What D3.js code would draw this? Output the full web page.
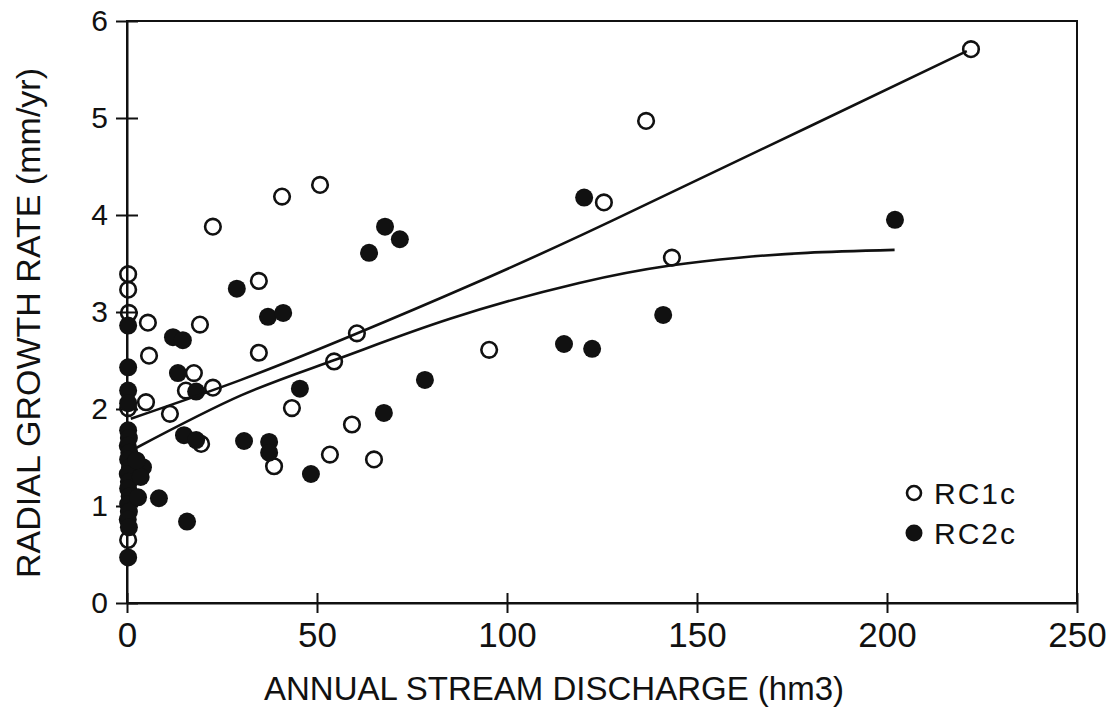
<!DOCTYPE html>
<html>
<head>
<meta charset="utf-8">
<title>Radial growth rate vs annual stream discharge</title>
<script src="https://d3js.org/d3.v7.min.js"></script>
<style>
    body { margin: 0; background: #fff; }
    text { font-family: "Liberation Sans", Arial, sans-serif; fill: #111; }
    .axis path, .axis line { stroke: #111; stroke-width: 2; }
    .frame { fill: none; stroke: #111; stroke-width: 2; }
    .fit { fill: none; stroke: #111; stroke-width: 2.6; }
    .rc1 { fill: none; stroke: #111; stroke-width: 2.6; }
    .rc2 { fill: #111; }
</style>
</head>
<body>
<div id="vis"></div>
<script>
// ---- data ----
// RC1c (open circles)
var rc1X = [222.1, 136.6, 125.5, 143.4, 95.3, 50.8, 40.8, 22.6, 34.7, 34.7,
            60.5, 54.5, 59.2, 43.4, 53.4, 65.0, 38.7, 0.3, 0.3, 0.5,
            5.5, 19.2, 5.8, 17.6, 15.5, 22.6, 5.0, 11.3, 0.3, 19.5, 0.3];
var rc1Y = [5.71, 4.97, 4.13, 3.56, 2.61, 4.31, 4.19, 3.88, 3.32, 2.58,
            2.78, 2.49, 1.84, 2.01, 1.53, 1.48, 1.41, 3.39, 3.23, 2.99,
            2.89, 2.87, 2.55, 2.37, 2.19, 2.22, 2.07, 1.95, 2.01, 1.64, 0.65];

// RC2c (filled circles)
var rc2X = [120.3, 202.1, 141.1, 115.0, 122.4, 78.4, 67.9, 71.8, 63.7, 67.6,
            48.4, 28.9, 37.1, 41.1, 12.1, 14.7, 13.4, 18.2, 45.5, 15.0,
            18.2, 30.8, 37.4, 37.4, 8.4, 15.8, 0.3, 0.3, 0.3, 0.3,
            0.3, 0.5, 0.2, 0.6, 0.3, 0.8, 0.2, 0.5, 0.3, 0.7,
            0.3, 0.5, 0.2, 0.5, 4.2, 3.6, 2.9, 2.5, 0.3];
var rc2Y = [4.18, 3.95, 2.97, 2.67, 2.62, 2.30, 3.88, 3.75, 3.61, 1.96,
            1.33, 3.24, 2.95, 2.99, 2.74, 2.71, 2.37, 2.18, 2.21, 1.73,
            1.68, 1.67, 1.66, 1.55, 1.08, 0.84, 2.86, 2.43, 2.19, 2.06,
            1.78, 1.70, 1.62, 1.55, 1.48, 1.40, 1.33, 1.25, 1.18, 1.10,
            1.02, 0.94, 0.86, 0.78, 1.40, 1.30, 1.09, 1.47, 0.47];

// fitted lines
var fit1X = [1, 30, 60, 90, 120, 150, 180, 221];
var fit1Y = [1.90, 2.30, 2.77, 3.27, 3.80, 4.36, 4.92, 5.69];
var fit2X = [2, 30, 55, 85, 119, 143, 161, 179, 202];
var fit2Y = [1.59, 2.14, 2.51, 2.93, 3.30, 3.48, 3.56, 3.61, 3.64];

var xTicks = [0, 50, 100, 150, 200, 250];
var yTicks = [0, 1, 2, 3, 4, 5, 6];
var legendLabels = ["RC1c", "RC2c"];

// ---- layout ----
var margin = {top: 21, right: 39, bottom: 106, left: 127},
    width = 1116 - margin.left - margin.right,
    height = 709 - margin.top - margin.bottom;

var svg = d3.select("#vis").append("svg")
    .attr("width", 1116)
    .attr("height", 709);

var g = svg.append("g")
    .attr("transform", "translate(" + margin.left + "," + margin.top + ")");

var x = d3.scaleLinear().domain([0, 250]).range([0, width]);
var y = d3.scaleLinear().domain([0, 6]).range([height, 0]);

// frame (top + right side)
g.append("rect").attr("class", "frame")
    .attr("width", width).attr("height", height);

// axes, ticks crossing the axis line
var xAxis = g.append("g").attr("class", "axis")
    .attr("transform", "translate(0," + height + ")")
    .call(d3.axisBottom(x).tickValues(xTicks).tickFormat(d3.format("d"))
        .tickSize(10).tickSizeOuter(0).tickPadding(9));
xAxis.selectAll(".tick line").attr("y1", -10);
xAxis.selectAll("text").style("font-size", "35px");

var yAxis = g.append("g").attr("class", "axis")
    .call(d3.axisLeft(y).tickValues(yTicks).tickFormat(d3.format("d"))
        .tickSize(11).tickSizeOuter(0).tickPadding(8));
yAxis.selectAll(".tick line").attr("x1", 11);
yAxis.selectAll("text").style("font-size", "30px");

svg.selectAll(".axis text").attr("fill", "#111");

// titles
svg.append("text")
    .attr("x", 554).attr("y", 700)
    .attr("text-anchor", "middle")
    .style("font-size", "33px")
    .text("ANNUAL STREAM DISCHARGE (hm3)");

svg.append("text")
    .attr("transform", "translate(40,323) rotate(-90)")
    .attr("text-anchor", "middle")
    .style("font-size", "34px")
    .text("RADIAL GROWTH RATE (mm/yr)");

// points
var rc1 = rc1X.map(function(d, i) { return {x: d, y: rc1Y[i]}; });
var rc2 = rc2X.map(function(d, i) { return {x: d, y: rc2Y[i]}; });

g.selectAll(".rc1").data(rc1).enter().append("circle")
    .attr("class", "rc1")
    .attr("cx", function(d) { return x(d.x); })
    .attr("cy", function(d) { return y(d.y); })
    .attr("r", 7.8);

g.selectAll(".rc2").data(rc2).enter().append("circle")
    .attr("class", "rc2")
    .attr("cx", function(d) { return x(d.x); })
    .attr("cy", function(d) { return y(d.y); })
    .attr("r", 9);

// fit lines
var line = d3.line()
    .x(function(d) { return x(d[0]); })
    .y(function(d) { return y(d[1]); })
    .curve(d3.curveNatural);

g.append("path").attr("class", "fit")
    .attr("d", line(fit1X.map(function(d, i) { return [d, fit1Y[i]]; })));
g.append("path").attr("class", "fit")
    .attr("d", line(fit2X.map(function(d, i) { return [d, fit2Y[i]]; })));

// legend
var legend = svg.append("g").attr("transform", "translate(914,493)");
legendLabels.forEach(function(lab, i) {
    var row = legend.append("g").attr("transform", "translate(0," + (i * 40) + ")");
    row.append("circle")
        .attr("class", i === 0 ? "rc1" : "rc2")
        .attr("r", i === 0 ? 7 : 8.5);
    row.append("text")
        .attr("x", 20).attr("y", 11)
        .style("font-size", "30px")
        .style("letter-spacing", "2px")
        .text(lab);
});
</script>
</body>
</html>
